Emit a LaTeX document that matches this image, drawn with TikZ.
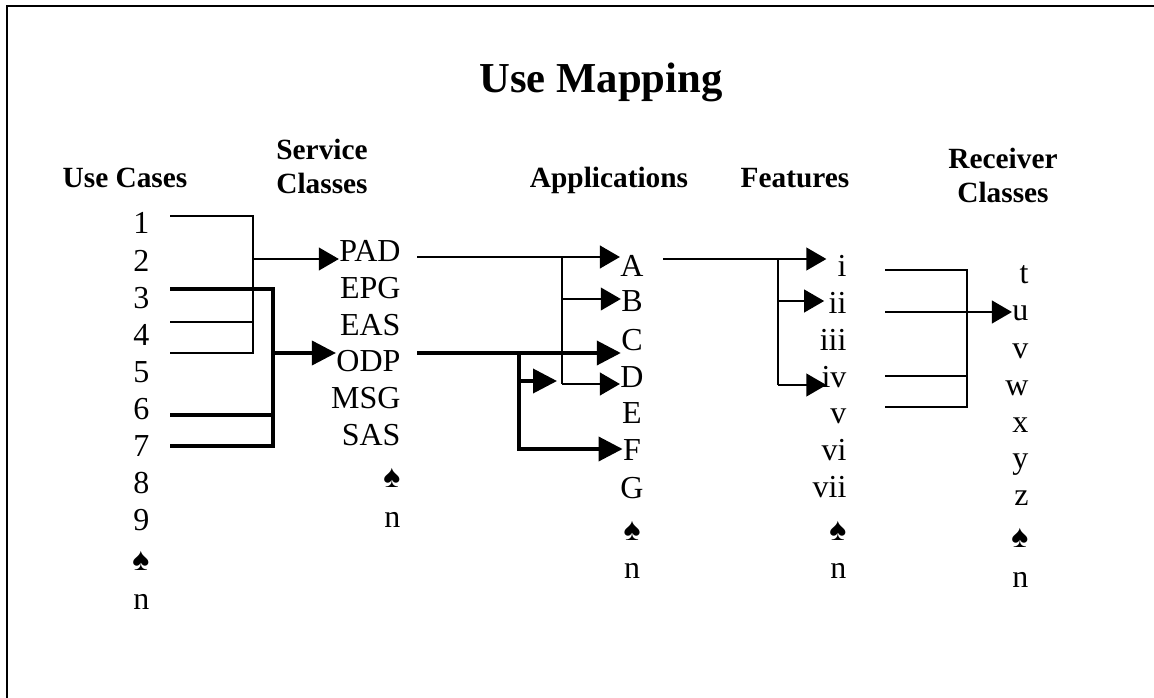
\documentclass[tikz,border=0pt]{standalone}
\usepackage{fontspec}
\setmainfont{Liberation Serif}
\usetikzlibrary{arrows.meta}
\newcommand{\spd}{♠}

\begin{document}
\begin{tikzpicture}[x=0.375pt, y=-0.375pt,
      lbl/.style={inner sep=0pt, font=\fontsize{12}{14}\selectfont},
      rl/.style={lbl, anchor=base east},
      cl/.style={lbl, anchor=base},
      hdr/.style={inner sep=0pt, align=center, font=\bfseries\fontsize{11}{12.75}\selectfont},
      wire/.style={line width=0.75pt},
      bus/.style={line width=1.4pt},
      arr/.style={wire, -{Triangle[length=7.5pt, width=8.5pt]}},
      arrb/.style={bus, -{Triangle[length=9pt, width=9pt]}}
  ]
    \useasboundingbox (0,0) rectangle (1154,698);
    \draw[line width=0.75pt] (7,698) -- (7,6) -- (1154,6);

    \node[font=\bfseries\fontsize{16}{19}\selectfont, anchor=base] (title) at (601,93) {Use Mapping};

    \node[hdr, anchor=base] (huse) at (125,188) {Use Cases};
    \node[hdr] (hsvc) at (322,166) {Service\\Classes};
    \node[hdr, anchor=base] (happ) at (609,188) {Applications};
    \node[hdr, anchor=base] (hfeat) at (795,188) {Features};
    \node[hdr] (hrcv) at (1003,175) {Receiver\\Classes};

    % use cases
    \node[rl] (u1) at (150,234) {1};
    \node[rl] (u2) at (150,271) {2};
    \node[rl] (u3) at (150,308) {3};
    \node[rl] (u4) at (150,345) {4};
    \node[rl] (u5) at (150,382) {5};
    \node[rl] (u6) at (150,419) {6};
    \node[rl] (u7) at (150,456) {7};
    \node[rl] (u8) at (150,493) {8};
    \node[rl] (u9) at (150,530) {9};
    \node[rl] (uspd) at (150,570) {\spd};
    \node[rl] (un) at (150,609) {n};

    % service classes
    \node[rl] (pad) at (401,262) {PAD};
    \node[rl] (epg) at (401,298) {EPG};
    \node[rl] (eas) at (401,335) {EAS};
    \node[rl] (odp) at (401,371) {ODP};
    \node[rl] (msg) at (401,408) {MSG};
    \node[rl] (sas) at (401,445) {SAS};
    \node[rl] (sspd) at (401,487) {\spd};
    \node[rl] (sn) at (401,527) {n};

    % applications
    \node[cl] (apA) at (632,276) {A};
    \node[cl] (apB) at (632,312) {B};
    \node[cl] (apC) at (632,350) {C};
    \node[cl] (apD) at (632,387) {D};
    \node[cl] (apE) at (632,423) {E};
    \node[cl] (apF) at (632,460) {F};
    \node[cl] (apG) at (632,498) {G};
    \node[cl] (apspd) at (632,540) {\spd};
    \node[cl] (apn) at (632,578) {n};

    % features
    \node[rl] (f1) at (847,276) {i};
    \node[rl] (f2) at (847,313) {ii};
    \node[rl] (f3) at (847,350) {iii};
    \node[rl] (f4) at (847,387) {iv};
    \node[rl] (f5) at (847,423) {v};
    \node[rl] (f6) at (847,460) {vi};
    \node[rl] (f7) at (847,497) {vii};
    \node[rl] (fspd) at (847,540) {\spd};
    \node[rl] (fn) at (847,578) {n};

    % receiver classes
    \node[rl] (rt) at (1029,283) {t};
    \node[rl] (ru) at (1029,320) {u};
    \node[rl] (rv) at (1029,358) {v};
    \node[rl] (rw) at (1029,395) {w};
    \node[rl] (rx) at (1029,432) {x};
    \node[rl] (ry) at (1029,468) {y};
    \node[rl] (rz) at (1029,505) {z};
    \node[rl] (rspd) at (1029,547) {\spd};
    \node[rl] (rn) at (1029,587) {n};

    % use cases -> PAD
    \coordinate (s1) at (170,216);
    \coordinate (s4) at (170,322);
    \coordinate (s5) at (170,353);
    \coordinate (k1) at (253,216);
    \coordinate (jpad) at (253,259);
    \draw[wire] (s1) -- (k1) -- (k1 |- s5) -- (s5);
    \draw[wire] (s4) -- (s4 -| k1);
    \draw[arr] (jpad) -- (jpad -| pad.west);

    % use cases -> ODP
    \coordinate (s3) at (170,289);
    \coordinate (s6) at (170,415);
    \coordinate (s7) at (170,446);
    \coordinate (jodp) at (273,353);
    \draw[bus] (s3) -- (s3 -| jodp) -- (s7 -| jodp) -- (s7);
    \draw[bus] (s6) -- (s6 -| jodp);
    \draw[arrb] (jodp) -- (jodp -| odp.west);

    % PAD -> applications
    \coordinate (pa) at (417,257);
    \coordinate (ja) at (562,257);
    \coordinate (jb) at (562,299);
    \coordinate (jd) at (562,384);
    \draw[arr] (pa) -- (pa -| apA.west);
    \draw[wire] (ja) -- (jd);
    \draw[arr] (jb) -- (jb -| apB.west);
    \draw[arr] (jd) -- (jd -| apD.west);

    % ODP -> applications
    \coordinate (oa) at (417,353);
    \coordinate (jc) at (519,353);
    \coordinate (jf) at (519,449);
    \coordinate (js) at (517,381);
    \coordinate (jt) at (557,381);
    \draw[arrb] (oa) -- (oa -| apC.west);
    \draw[arrb] (jc) -- (jf) -- (jf -| apF.west);
    \draw[arrb] (js) -- (jt);

    % A -> features
    \coordinate (aa) at (663,259);
    \coordinate (ji) at (778,259);
    \coordinate (jii) at (778,301);
    \coordinate (jiv) at (778,385);
    \draw[arr] (aa) -- ([xshift=-4pt]aa -| f1.west);
    \draw[wire] (ji) -- (jiv);
    \draw[arr] (jii) -- ([xshift=-1.5pt]jii -| f2.west);
    \draw[arr] (jiv) -- ([xshift=2pt]jiv -| f4.west);

    % features -> receiver classes
    \coordinate (o1) at (885,270);
    \coordinate (o2) at (885,312);
    \coordinate (o4) at (885,376);
    \coordinate (o5) at (885,407);
    \coordinate (jr) at (967,270);
    \draw[wire] (o1) -- (jr) -- (jr |- o5) -- (o5);
    \draw[wire] (o4) -- (o4 -| jr);
    \draw[arr] (o2) -- (o2 -| ru.west);
  \end{tikzpicture}
\end{document}
